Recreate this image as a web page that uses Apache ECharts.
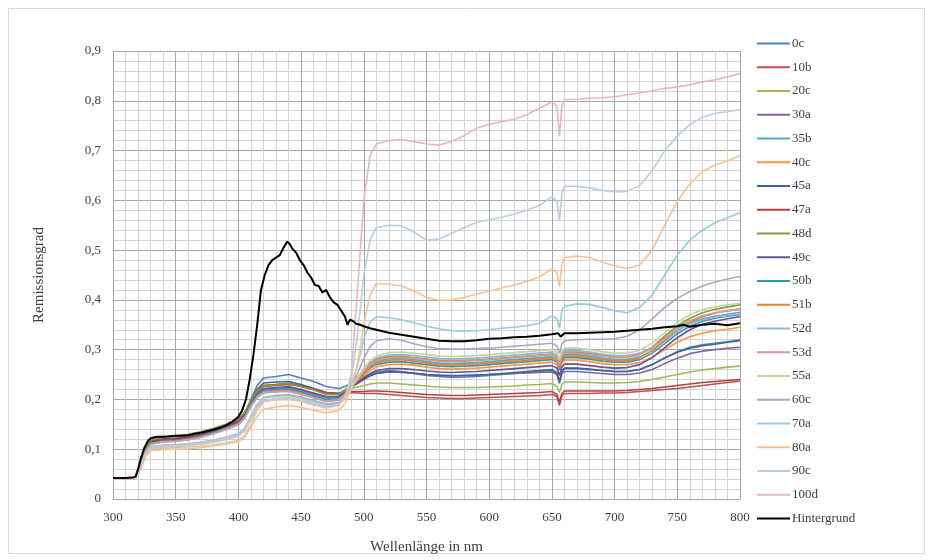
<!DOCTYPE html>
<html>
<head>
<meta charset="utf-8">
<script src="https://cdn.jsdelivr.net/npm/echarts@6/dist/echarts.min.js"></script>
<style>
  html, body { margin: 0; padding: 0; background: #fff; }
  #chart { width: 933px; height: 560px; }
</style>
</head>
<body>
<div id="chart"></div>
<script>
// Wavelength grid (nm) shared by the sample spectra
const wavelengths = [300,310,318,322,326,330,340,350,360,370,380,390,400,405,410,415,420,430,440,450,460,470,480,485,490,495,500,505,510,520,530,540,550,560,570,580,590,600,610,620,630,640,650,654,656,658,660,670,680,690,700,710,720,730,740,750,760,770,780,790,800];

const sampleNames = ['0c','10b','20c','30a','35b','40c','45a','47a','48d','49c','50b','51b','52d','53d','55a','60c','70a','80a','90c','100d'];

const sampleColors = ['#4F81BD','#C0504D','#9BBB59','#8064A2','#4BACC6','#F79646','#3B6499','#B5423F','#7F9D45','#6A5290','#2E9AB6','#E8822E','#95B3D7','#D99694','#C3D69B','#B3A2C7','#93CDDD','#FAC090','#B9CDE5','#E6B9B8'];

const s0c  = [0.040,0.040,0.042,0.070,0.100,0.117,0.121,0.122,0.126,0.130,0.138,0.147,0.158,0.172,0.200,0.228,0.243,0.246,0.250,0.243,0.236,0.226,0.222,0.226,0.232,0.236,0.243,0.250,0.255,0.258,0.256,0.252,0.248,0.246,0.244,0.245,0.246,0.248,0.250,0.252,0.254,0.256,0.258,0.252,0.232,0.255,0.262,0.262,0.260,0.258,0.256,0.256,0.260,0.270,0.284,0.296,0.305,0.310,0.313,0.316,0.320];
const s10b = [0.040,0.040,0.042,0.070,0.100,0.116,0.120,0.121,0.124,0.128,0.136,0.145,0.156,0.170,0.195,0.215,0.226,0.228,0.230,0.226,0.220,0.212,0.210,0.212,0.214,0.213,0.212,0.212,0.212,0.210,0.208,0.206,0.204,0.203,0.202,0.202,0.203,0.204,0.205,0.206,0.207,0.208,0.210,0.206,0.188,0.207,0.212,0.212,0.212,0.213,0.213,0.214,0.216,0.218,0.220,0.222,0.225,0.228,0.231,0.234,0.237];
const s20c = [0.040,0.040,0.042,0.072,0.102,0.118,0.123,0.125,0.128,0.133,0.140,0.149,0.160,0.173,0.198,0.218,0.228,0.230,0.233,0.228,0.222,0.214,0.212,0.216,0.222,0.225,0.228,0.231,0.233,0.233,0.231,0.229,0.227,0.225,0.224,0.224,0.224,0.225,0.226,0.227,0.229,0.230,0.232,0.226,0.214,0.230,0.235,0.235,0.234,0.233,0.233,0.234,0.236,0.240,0.245,0.250,0.255,0.259,0.262,0.265,0.267];
const s30a = [0.040,0.040,0.042,0.068,0.098,0.113,0.118,0.119,0.122,0.127,0.134,0.143,0.154,0.168,0.193,0.212,0.222,0.224,0.226,0.220,0.213,0.206,0.206,0.212,0.225,0.232,0.240,0.247,0.252,0.255,0.254,0.252,0.250,0.249,0.248,0.248,0.249,0.250,0.251,0.252,0.253,0.254,0.255,0.250,0.236,0.252,0.256,0.256,0.254,0.252,0.250,0.250,0.253,0.260,0.272,0.283,0.292,0.297,0.300,0.303,0.305];
const s35b = [0.040,0.040,0.042,0.068,0.098,0.112,0.117,0.118,0.121,0.126,0.133,0.142,0.152,0.166,0.190,0.208,0.218,0.220,0.222,0.216,0.209,0.202,0.204,0.212,0.228,0.240,0.255,0.268,0.276,0.282,0.283,0.280,0.276,0.273,0.272,0.273,0.274,0.276,0.278,0.280,0.282,0.284,0.286,0.282,0.266,0.284,0.290,0.290,0.287,0.283,0.280,0.280,0.285,0.298,0.318,0.338,0.352,0.362,0.367,0.371,0.375];
const s40c = [0.040,0.040,0.042,0.068,0.097,0.111,0.116,0.117,0.120,0.125,0.132,0.141,0.151,0.164,0.188,0.206,0.216,0.218,0.220,0.214,0.206,0.198,0.200,0.210,0.226,0.236,0.248,0.258,0.265,0.270,0.271,0.269,0.265,0.262,0.261,0.262,0.263,0.265,0.267,0.269,0.271,0.273,0.275,0.270,0.258,0.274,0.279,0.279,0.276,0.272,0.270,0.270,0.274,0.285,0.300,0.315,0.326,0.333,0.338,0.341,0.345];
const s45a = [0.040,0.040,0.042,0.069,0.099,0.114,0.119,0.120,0.123,0.128,0.135,0.144,0.155,0.169,0.196,0.220,0.233,0.235,0.236,0.230,0.222,0.214,0.212,0.218,0.228,0.234,0.241,0.248,0.252,0.256,0.255,0.253,0.250,0.248,0.247,0.248,0.249,0.250,0.252,0.254,0.256,0.258,0.260,0.254,0.236,0.257,0.263,0.263,0.261,0.258,0.256,0.256,0.260,0.270,0.283,0.295,0.303,0.308,0.311,0.315,0.318];
const s47a = [0.040,0.040,0.042,0.070,0.100,0.116,0.121,0.122,0.125,0.129,0.137,0.146,0.157,0.171,0.197,0.218,0.228,0.230,0.232,0.227,0.221,0.214,0.212,0.214,0.216,0.216,0.216,0.217,0.217,0.216,0.214,0.212,0.210,0.209,0.208,0.208,0.209,0.210,0.211,0.212,0.213,0.214,0.216,0.210,0.195,0.212,0.217,0.217,0.217,0.217,0.217,0.218,0.220,0.222,0.225,0.228,0.231,0.234,0.236,0.238,0.240];
const s48d = [0.040,0.040,0.042,0.072,0.103,0.119,0.124,0.127,0.130,0.135,0.142,0.150,0.161,0.174,0.198,0.217,0.227,0.229,0.232,0.226,0.219,0.210,0.210,0.218,0.232,0.244,0.260,0.272,0.280,0.286,0.287,0.284,0.281,0.278,0.277,0.278,0.279,0.281,0.283,0.285,0.287,0.289,0.291,0.287,0.272,0.289,0.295,0.295,0.292,0.288,0.285,0.285,0.291,0.305,0.327,0.348,0.363,0.374,0.381,0.386,0.390];
const s49c = [0.040,0.040,0.042,0.068,0.098,0.113,0.118,0.119,0.122,0.127,0.134,0.143,0.153,0.167,0.192,0.211,0.221,0.223,0.225,0.219,0.212,0.205,0.206,0.213,0.226,0.234,0.244,0.252,0.258,0.262,0.262,0.260,0.257,0.255,0.254,0.255,0.256,0.258,0.260,0.262,0.264,0.266,0.268,0.263,0.248,0.265,0.271,0.271,0.268,0.265,0.263,0.264,0.270,0.284,0.304,0.324,0.340,0.351,0.357,0.362,0.366];
const s50b = [0.040,0.040,0.042,0.068,0.097,0.112,0.117,0.118,0.121,0.126,0.133,0.142,0.152,0.165,0.190,0.208,0.218,0.220,0.221,0.215,0.207,0.200,0.202,0.211,0.227,0.238,0.252,0.263,0.270,0.275,0.276,0.273,0.270,0.267,0.266,0.267,0.268,0.270,0.272,0.274,0.276,0.278,0.280,0.275,0.260,0.278,0.284,0.284,0.281,0.277,0.275,0.275,0.280,0.293,0.312,0.332,0.347,0.357,0.363,0.367,0.370];
const s51b = [0.040,0.040,0.042,0.067,0.096,0.110,0.115,0.116,0.119,0.124,0.131,0.140,0.150,0.163,0.186,0.204,0.214,0.216,0.218,0.212,0.204,0.196,0.199,0.209,0.226,0.238,0.253,0.265,0.273,0.279,0.280,0.277,0.273,0.270,0.269,0.270,0.271,0.273,0.275,0.277,0.279,0.281,0.283,0.278,0.264,0.281,0.287,0.287,0.284,0.280,0.278,0.278,0.284,0.298,0.318,0.339,0.355,0.366,0.373,0.378,0.382];
const s52d = [0.040,0.040,0.042,0.067,0.096,0.110,0.115,0.116,0.119,0.124,0.131,0.139,0.149,0.162,0.186,0.204,0.213,0.215,0.216,0.210,0.203,0.196,0.199,0.210,0.228,0.242,0.260,0.274,0.283,0.289,0.290,0.288,0.285,0.282,0.281,0.282,0.283,0.285,0.287,0.289,0.291,0.293,0.295,0.290,0.276,0.293,0.298,0.298,0.295,0.291,0.288,0.288,0.293,0.305,0.322,0.340,0.352,0.360,0.365,0.368,0.372];
const s53d = [0.040,0.040,0.042,0.067,0.096,0.110,0.115,0.116,0.119,0.124,0.131,0.140,0.150,0.163,0.187,0.205,0.214,0.216,0.217,0.211,0.204,0.197,0.200,0.210,0.227,0.240,0.257,0.270,0.278,0.284,0.285,0.283,0.280,0.277,0.276,0.277,0.278,0.280,0.282,0.284,0.286,0.288,0.290,0.285,0.270,0.288,0.293,0.293,0.290,0.287,0.284,0.284,0.290,0.303,0.323,0.343,0.358,0.368,0.374,0.378,0.381];
const s55a = [0.040,0.040,0.042,0.062,0.088,0.100,0.102,0.103,0.104,0.106,0.109,0.113,0.118,0.128,0.150,0.178,0.196,0.202,0.205,0.200,0.193,0.186,0.190,0.202,0.224,0.242,0.262,0.278,0.287,0.294,0.295,0.293,0.290,0.287,0.286,0.287,0.288,0.290,0.292,0.294,0.296,0.298,0.300,0.295,0.280,0.298,0.303,0.303,0.300,0.296,0.293,0.293,0.299,0.313,0.334,0.355,0.370,0.380,0.386,0.390,0.393];
const s60c = [0.040,0.040,0.042,0.064,0.092,0.105,0.108,0.109,0.111,0.114,0.118,0.124,0.131,0.142,0.165,0.190,0.204,0.208,0.210,0.205,0.198,0.191,0.194,0.206,0.228,0.252,0.282,0.306,0.318,0.322,0.319,0.312,0.306,0.302,0.301,0.301,0.302,0.303,0.305,0.307,0.309,0.311,0.313,0.308,0.292,0.312,0.318,0.320,0.321,0.321,0.322,0.327,0.340,0.362,0.385,0.403,0.417,0.428,0.436,0.442,0.447];
const s70a = [0.040,0.040,0.042,0.064,0.092,0.105,0.108,0.109,0.111,0.114,0.118,0.124,0.131,0.142,0.166,0.190,0.203,0.206,0.208,0.203,0.196,0.189,0.192,0.206,0.232,0.268,0.320,0.356,0.366,0.364,0.360,0.354,0.347,0.342,0.338,0.337,0.338,0.340,0.343,0.345,0.348,0.353,0.368,0.362,0.343,0.380,0.387,0.392,0.391,0.385,0.378,0.374,0.385,0.410,0.450,0.490,0.520,0.540,0.555,0.565,0.575];
const s80a = [0.040,0.040,0.042,0.060,0.085,0.097,0.099,0.100,0.101,0.103,0.106,0.110,0.115,0.124,0.144,0.166,0.180,0.185,0.188,0.184,0.178,0.173,0.178,0.192,0.220,0.270,0.350,0.410,0.432,0.432,0.428,0.418,0.405,0.399,0.400,0.405,0.412,0.418,0.424,0.430,0.437,0.446,0.462,0.455,0.427,0.472,0.485,0.488,0.485,0.476,0.468,0.463,0.470,0.500,0.550,0.598,0.633,0.658,0.671,0.679,0.690];
const s90c = [0.040,0.040,0.042,0.063,0.090,0.103,0.106,0.107,0.109,0.112,0.116,0.121,0.128,0.139,0.162,0.186,0.198,0.201,0.202,0.198,0.191,0.185,0.190,0.205,0.240,0.330,0.450,0.520,0.545,0.550,0.549,0.536,0.520,0.522,0.534,0.545,0.556,0.561,0.566,0.572,0.580,0.590,0.607,0.598,0.559,0.615,0.628,0.628,0.625,0.620,0.617,0.618,0.630,0.660,0.700,0.729,0.752,0.767,0.775,0.778,0.782];
const s100d = [0.040,0.040,0.042,0.062,0.088,0.101,0.104,0.105,0.107,0.110,0.114,0.119,0.126,0.137,0.160,0.184,0.196,0.199,0.200,0.196,0.189,0.183,0.188,0.204,0.250,0.420,0.600,0.690,0.713,0.720,0.722,0.718,0.713,0.711,0.718,0.730,0.745,0.753,0.758,0.763,0.772,0.785,0.798,0.790,0.729,0.790,0.802,0.803,0.805,0.806,0.808,0.812,0.816,0.820,0.825,0.828,0.832,0.838,0.842,0.848,0.855];

const sampleValues = [s0c,s10b,s20c,s30a,s35b,s40c,s45a,s47a,s48d,s49c,s50b,s51b,s52d,s53d,s55a,s60c,s70a,s80a,s90c,s100d];

// Background (Hintergrund) spectrum, sampled more densely
const bgWavelengths = [300,305,310,315,318,320,322,325,328,330,335,340,345,350,355,360,365,370,375,380,385,390,395,400,403,406,409,412,415,418,421,424,427,430,433,436,439,441,443,446,449,452,455,458,461,464,467,470,473,476,479,482,485,487,489,491,494,497,500,505,510,515,520,530,540,550,560,570,580,590,600,610,620,630,640,650,655,657,660,670,680,690,700,710,720,730,740,750,755,760,770,780,790,800];
const bgValues = [0.042,0.042,0.042,0.043,0.045,0.060,0.080,0.103,0.117,0.122,0.125,0.125,0.126,0.127,0.127,0.128,0.131,0.133,0.136,0.139,0.143,0.148,0.155,0.165,0.178,0.200,0.240,0.290,0.350,0.420,0.450,0.470,0.480,0.485,0.490,0.505,0.517,0.512,0.503,0.495,0.480,0.470,0.455,0.445,0.430,0.428,0.415,0.420,0.405,0.395,0.390,0.378,0.366,0.350,0.360,0.358,0.352,0.350,0.347,0.343,0.340,0.337,0.334,0.330,0.326,0.322,0.318,0.317,0.317,0.319,0.322,0.323,0.325,0.326,0.328,0.331,0.333,0.326,0.333,0.333,0.334,0.335,0.336,0.338,0.340,0.342,0.345,0.347,0.350,0.346,0.350,0.352,0.349,0.353];

const xTicks = [300,350,400,450,500,550,600,650,700,750,800];
const yTicks = [0,0.1,0.2,0.3,0.4,0.5,0.6,0.7,0.8,0.9];

const serif = '"Liberation Serif", "DejaVu Serif", serif';

const series = sampleNames.map((name, i) => ({
  name: name,
  type: 'line',
  symbol: 'none',
  smooth: false,
  data: wavelengths.map((w, k) => [w, sampleValues[i][k]]),
  lineStyle: { width: 1.6, color: sampleColors[i] },
  itemStyle: { color: sampleColors[i] },
  z: 2
}));
series.push({
  name: 'Hintergrund',
  type: 'line',
  symbol: 'none',
  data: bgWavelengths.map((w, k) => [w, bgValues[k]]),
  lineStyle: { width: 2, color: '#000000' },
  itemStyle: { color: '#000000' },
  z: 3
});

const chart = echarts.init(document.getElementById('chart'), null, { renderer: 'canvas' });
chart.setOption({
  animation: false,
  backgroundColor: '#ffffff',
  grid: { left: 113, top: 51, width: 627, height: 451, containLabel: false },
  xAxis: {
    type: 'value',
    min: xTicks[0],
    max: xTicks[xTicks.length - 1],
    interval: 50,
    name: 'Wellenlänge in nm',
    nameLocation: 'middle',
    nameGap: 41,
    nameTextStyle: { fontFamily: serif, fontSize: 15, color: '#404040' },
    axisLine: { show: true, lineStyle: { color: '#A6A6A6', width: 1 } },
    axisTick: { show: false },
    axisLabel: { fontFamily: serif, fontSize: 13, color: '#404040', margin: 12 },
    splitLine: { show: true, lineStyle: { color: '#A6A6A6', width: 1 } },
    minorTick: { show: false, splitNumber: 5 },
    minorSplitLine: { show: true, lineStyle: { color: '#D4D4D4', width: 1 } }
  },
  yAxis: {
    type: 'value',
    min: yTicks[0],
    max: yTicks[yTicks.length - 1],
    interval: 0.1,
    name: 'Remissionsgrad',
    nameLocation: 'middle',
    nameGap: 66,
    nameTextStyle: { fontFamily: serif, fontSize: 15, color: '#404040' },
    axisLine: { show: true, lineStyle: { color: '#A6A6A6', width: 1 } },
    axisTick: { show: false },
    axisLabel: {
      fontFamily: serif, fontSize: 13, color: '#404040', margin: 12,
      formatter: v => (Math.round(v * 10) / 10).toString().replace('.', ',')
    },
    splitLine: { show: true, lineStyle: { color: '#A6A6A6', width: 1 } },
    minorTick: { show: false, splitNumber: 5 },
    minorSplitLine: { show: true, lineStyle: { color: '#D4D4D4', width: 1 } }
  },
  legend: {
    orient: 'vertical',
    left: 757,
    top: 37,
    padding: 0,
    itemWidth: 33,
    itemHeight: 12,
    itemGap: 10.75,
    icon: 'path://M0,5 L33,5 L33,7 L0,7 Z',
    textStyle: { fontFamily: serif, fontSize: 13, color: '#404040', padding: [0, 0, 0, -3] },
    data: sampleNames.concat(['Hintergrund'])
  },
  graphic: [{
    type: 'rect',
    shape: { x: 8.5, y: 8.5, width: 916, height: 545 },
    style: { fill: 'none', stroke: '#D9D9D9', lineWidth: 1 },
    silent: true
  }],
  series: series
});
</script>
</body>
</html>
